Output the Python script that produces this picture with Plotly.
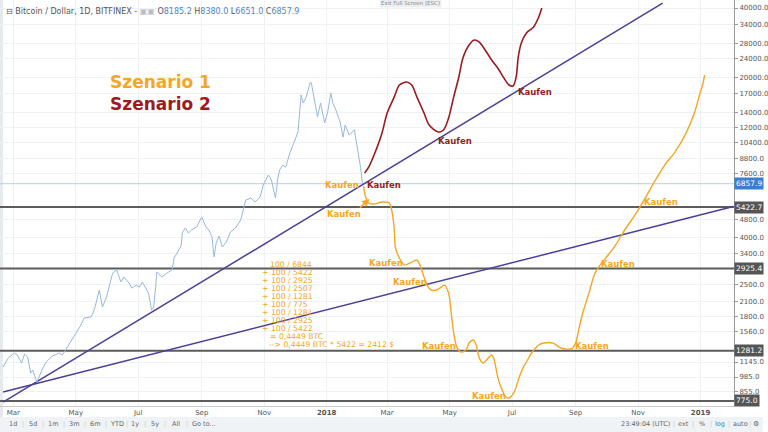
import math
import plotly.graph_objects as go

# ---------------- data ----------------
btc_dates = ['2017-02-19', '2017-02-24', '2017-03-02', '2017-03-05', '2017-03-09', '2017-03-12', '2017-03-15',
             '2017-03-18', '2017-03-20', '2017-03-24', '2017-03-29', '2017-04-02', '2017-04-08', '2017-04-15',
             '2017-04-18', '2017-04-22', '2017-04-27', '2017-05-03', '2017-05-06', '2017-05-09', '2017-05-16',
             '2017-05-19', '2017-05-22', '2017-05-24', '2017-05-27', '2017-05-31', '2017-06-06', '2017-06-10',
             '2017-06-14', '2017-06-17', '2017-06-22', '2017-06-25', '2017-06-29', '2017-07-02', '2017-07-05',
             '2017-07-08', '2017-07-11', '2017-07-14', '2017-07-16', '2017-07-18', '2017-07-19', '2017-07-24',
             '2017-07-29', '2017-08-03', '2017-08-05', '2017-08-08', '2017-08-12', '2017-08-13', '2017-08-16',
             '2017-08-19', '2017-08-22', '2017-08-27', '2017-08-31', '2017-09-01', '2017-09-05', '2017-09-08',
             '2017-09-11', '2017-09-13', '2017-09-15', '2017-09-18', '2017-09-21', '2017-09-25', '2017-09-29',
             '2017-10-04', '2017-10-09', '2017-10-12', '2017-10-14', '2017-10-19', '2017-10-23', '2017-10-28',
             '2017-10-31', '2017-11-05', '2017-11-08', '2017-11-12', '2017-11-14', '2017-11-16', '2017-11-19',
             '2017-11-22', '2017-11-26', '2017-12-01', '2017-12-04', '2017-12-07', '2017-12-09', '2017-12-12',
             '2017-12-16', '2017-12-17', '2017-12-20', '2017-12-23', '2017-12-26', '2017-12-30', '2018-01-02',
             '2018-01-05', '2018-01-07', '2018-01-10', '2018-01-14', '2018-01-17', '2018-01-19', '2018-01-23',
             '2018-01-28', '2018-01-31', '2018-02-03', '2018-02-05']
btc_close = [1088, 1191, 1253, 1228, 1133, 1240, 1203,
             1025, 1056, 936, 1056, 1145, 1215, 1253,
             1228, 1317, 1428, 1578, 1660, 1780, 1800,
             1929, 2198, 2358, 1987, 2198, 2797, 2883,
             2556, 2687, 2530, 2405, 2478, 2430, 2556,
             2405, 2286, 1929, 1987, 2430, 2825, 2687,
             2797, 2883, 3251, 3419, 3705, 4180, 4395,
             4180, 4308, 4440, 4763, 4907, 4440, 4308,
             4014, 3284, 3780, 4055, 3631, 3818, 4222,
             4395, 4763, 5425, 5821, 5938, 5706, 5998,
             6764, 7480, 7116, 5938, 7116, 7866, 8270,
             8100, 9330, 10630, 11525, 16710, 15420, 16380,
             19030, 18840, 15580, 13400, 15420, 12610, 14080,
             17050, 15420, 14370, 12740, 10950, 12370, 11190,
             11760, 9910, 8100, 6858]

s1_dates = ['2018-02-06', '2018-02-08', '2018-02-11', '2018-02-16', '2018-02-24', '2018-03-03', '2018-03-06',
            '2018-03-08', '2018-03-09', '2018-03-13', '2018-03-18', '2018-03-25', '2018-03-30', '2018-04-02',
            '2018-04-06', '2018-04-09', '2018-04-13', '2018-04-18', '2018-04-23', '2018-04-26', '2018-04-30',
            '2018-05-03', '2018-05-05', '2018-05-08', '2018-05-12', '2018-05-17', '2018-05-20', '2018-05-24',
            '2018-05-27', '2018-05-30', '2018-06-03', '2018-06-06', '2018-06-11', '2018-06-13', '2018-06-17',
            '2018-06-20', '2018-06-25', '2018-06-28', '2018-07-03', '2018-07-08', '2018-07-12', '2018-07-15',
            '2018-07-20', '2018-07-27', '2018-08-01', '2018-08-10', '2018-08-16', '2018-08-22', '2018-08-29',
            '2018-09-01', '2018-09-04', '2018-09-08', '2018-09-14', '2018-09-20', '2018-09-27', '2018-10-02',
            '2018-10-10', '2018-10-19', '2018-10-29', '2018-11-08', '2018-11-18', '2018-11-27', '2018-12-07',
            '2018-12-17', '2018-12-26', '2018-12-31', '2019-01-03', '2019-01-05']
s1_values = [6700, 5998, 5648, 5590, 5706, 5648, 5109,
             4308, 3631, 3251, 3030, 3123, 3187, 3030,
             2687, 2478, 2358, 2358, 2430, 2478, 2286,
             1800, 1530, 1330, 1265, 1291, 1385, 1428,
             1358, 1191, 1133, 1168, 1228, 1191, 984,
             891, 806, 798, 847, 984, 1088, 1145,
             1253, 1358, 1385, 1385, 1330, 1304, 1317,
             1385, 1578, 1873, 2286, 2797, 3123, 3320,
             3705, 4308, 5010, 5938, 7116, 8270, 9420,
             11190, 13940, 16710, 18470, 20400]

s2_dates = ['2018-02-07', '2018-02-11', '2018-02-17', '2018-02-24', '2018-03-01', '2018-03-08', '2018-03-13',
            '2018-03-20', '2018-03-25', '2018-03-30', '2018-04-06', '2018-04-11', '2018-04-20', '2018-04-25',
            '2018-04-30', '2018-05-05', '2018-05-10', '2018-05-14', '2018-05-20', '2018-05-25', '2018-05-30',
            '2018-06-06', '2018-06-11', '2018-06-17', '2018-06-23', '2018-06-28', '2018-07-02', '2018-07-05',
            '2018-07-07', '2018-07-10', '2018-07-15', '2018-07-22', '2018-07-27', '2018-07-30']
s2_values = [7632, 8100, 9330, 11410, 13940, 16400, 18470,
             19030, 18470, 16400, 13940, 12370, 11525, 11760,
             13260, 16400, 20010, 24220, 27580, 29010, 28430,
             25720, 23740, 21900, 19810, 18470, 18290, 20010,
             24460, 28150, 31120, 33070, 36540, 40000]

trend_a_dates = ['2017-02-19', '2018-11-25']
trend_a_values = [766, 42040]
trend_b_dates = ['2017-02-19', '2019-02-02']
trend_b_values = [847, 5450]

levels = [5422.7, 2925.4, 1281.2, 775.0]
last_price = 6857.9

y_ticks = [40000, 34000, 28000, 24000, 20000, 17000, 14000, 12000, 10400, 8800, 7600,
           4800, 4000, 3400, 2500, 2100, 1800, 1560, 1145, 985, 855]
x_ticks = ['2017-03-01', '2017-05-01', '2017-07-01', '2017-09-01', '2017-11-01', '2018-01-01',
           '2018-03-01', '2018-05-01', '2018-07-01', '2018-09-01', '2018-11-01', '2019-01-01']
x_tick_text = ['Mar', 'May', 'Jul', 'Sep', 'Nov', '<b>2018</b>', 'Mar', 'May', 'Jul', 'Sep', 'Nov', '<b>2019</b>']

calc_lines = ['100 / 6844', '+ 100 / 5422', '+ 100 / 2925', '+ 100 / 2507', '+ 100 / 1281', '+ 100 / 775',
              '+ 100 / 1281', '+ 100 / 2925', '+ 100 / 5422', '= 0,4449 BTC', '--> 0,4449 BTC * 5422 = 2412 $']

# ---------------- layout helpers ----------------
W, H = 768, 432
PR, PB = 739, 406          # plot area right / bottom in px
X_RANGE = ['2017-02-16', '2019-02-02 16:00']
Y_RANGE = [2.867, 4.637]

ORANGE = '#f5a623'
RED = '#9b1b1e'
PURPLE = '#4b3f98'
FONT = 'DejaVu Sans'


def px(x):
    return x / PR


def py(y):
    return 1 - y / PB


fig = go.Figure()

# horizontal levels
for lv in levels:
    fig.add_trace(go.Scatter(x=X_RANGE, y=[lv, lv], mode='lines',
                             line=dict(color='#5c5c5c', width=2), hoverinfo='skip'))
fig.add_trace(go.Scatter(x=X_RANGE, y=[last_price, last_price], mode='lines',
                         line=dict(color='#b7cfec', width=1), hoverinfo='skip'))

# trend lines
fig.add_trace(go.Scatter(x=trend_a_dates, y=trend_a_values, mode='lines',
                         line=dict(color=PURPLE, width=1.5), hoverinfo='skip'))
fig.add_trace(go.Scatter(x=trend_b_dates, y=trend_b_values, mode='lines',
                         line=dict(color=PURPLE, width=1.5), hoverinfo='skip'))

# price
fig.add_trace(go.Scatter(x=btc_dates, y=btc_close, mode='lines',
                         line=dict(color='#98b8dc', width=1)))
# scenarios
fig.add_trace(go.Scatter(x=s1_dates, y=s1_values, mode='lines',
                         line=dict(color=ORANGE, width=1.4, shape='spline', smoothing=0.8)))
fig.add_trace(go.Scatter(x=s2_dates, y=s2_values, mode='lines',
                         line=dict(color=RED, width=1.6, shape='spline', smoothing=0.8)))

ann = []


def text(x, y, t, color='#555', size=8, anchor='center', bold=False, **kw):
    d = dict(xref='paper', yref='paper', x=px(x), y=py(y), text=('<b>%s</b>' % t) if bold else t,
             showarrow=False, xanchor=anchor, yanchor='middle',
             font=dict(family=FONT, size=size, color=color))
    d.update(kw)
    ann.append(d)


# Szenario titles
text(109, 82, 'Szenario 1', ORANGE, 17, 'left', True)
text(109, 104, 'Szenario 2', RED, 17, 'left', True)

# Kaufen labels
for (x, y) in [(344, 185), (346, 214), (389, 263), (413, 282), (442, 346), (492, 396), (596, 346), (622, 264), (666, 202)]:
    text(x, y, 'Kaufen', ORANGE, 8.5, 'center', True)
for (x, y) in [(387, 185), (458, 141), (539, 92)]:
    text(x, y, 'Kaufen', RED, 8.5, 'center', True)

# arrow
ann.append(dict(xref='paper', yref='paper', x=px(372), y=py(199), ax=-11, ay=10, text='',
                showarrow=True, arrowhead=2, arrowsize=1, arrowwidth=1.5, arrowcolor=ORANGE))

# calculation block
starts = [270, 262, 262, 262, 262, 262, 262, 262, 262, 270, 269]
for i, line in enumerate(calc_lines):
    text(starts[i], 264.5 + 8.03 * i, line, ORANGE, 7.7, 'left')

# level boxes on price axis
for lv in levels:
    ann.append(dict(xref='paper', yref='y', x=1, y=math.log10(lv), text='%.1f' % lv, showarrow=False,
                    xanchor='left', yanchor='middle', bgcolor='#555555', borderpad=1,
                    font=dict(family=FONT, size=7.5, color='white')))
ann.append(dict(xref='paper', yref='y', x=1, y=math.log10(last_price), text='%.1f' % last_price,
                showarrow=False, xanchor='left', yanchor='middle', bgcolor='#3b7dd0', borderpad=1,
                font=dict(family=FONT, size=7.5, color='white')))

# header
blue = '#4f86c6'
hdr = ('⊟ Bitcoin / Dollar, 1D, BITFINEX - <span style="color:#bbb">▣▣</span> '
       'O<span style="color:%s">8185.2</span> H<span style="color:%s">8380.0</span> '
       'L<span style="color:%s">6651.0</span> C<span style="color:%s">6857.9</span>') % (blue, blue, blue, blue)
text(4, 12, hdr, '#555', 8, 'left')
text(413, 3, 'Exit Full Screen (ESC)', '#888', 5.5, 'center', bgcolor='#eceff2', borderpad=1)

# bottom toolbar
tb = [(13, '1d'), (33, '5d'), (53, '1m'), (75, '3m'), (96, '6m'), (118, 'YTD'), (136, '1y'),
      (156, '5y'), (177, 'All'), (205, 'Go to...')]
for x, t in tb:
    text(x, 424, t, '#666', 6.5, 'center')
for x in [23, 43, 64, 86, 107, 128, 146, 166, 188]:
    text(x, 424, '|', '#ccc', 6.5, 'center')
text(650, 424, '23:49:04 (UTC)', '#666', 6.5, 'center')
text(688, 424, 'ext', '#666', 6.5, 'center')
text(707, 424, '%', '#666', 6.5, 'center')
text(725, 424, 'log', '#3b7dd0', 6.5, 'center')
text(746, 424, 'auto', '#666', 6.5, 'center')
text(761, 424, '⚙', '#666', 7, 'center')
for x in [679, 698, 716, 734, 755]:
    text(x, 424, '|', '#ccc', 6.5, 'center')

shapes = [
    dict(type='rect', xref='paper', yref='paper', x0=px(0), x1=px(W), y0=py(417), y1=py(H + 2),
         fillcolor='#f0f3f6', line=dict(width=0), layer='below'),
    dict(type='rect', xref='paper', yref='paper', x0=px(0), x1=px(3), y0=py(417), y1=py(0),
         fillcolor='#e6eaef', line=dict(width=0), layer='below'),
]

fig.update_layout(
    width=W, height=H,
    margin=dict(l=0, r=W - PR, t=0, b=H - PB),
    paper_bgcolor='white', plot_bgcolor='white',
    showlegend=False,
    annotations=ann, shapes=shapes,
    xaxis=dict(type='date', range=X_RANGE, tickvals=x_ticks, ticktext=x_tick_text,
               showgrid=True, gridcolor='#eef1f5', gridwidth=1, zeroline=False,
               showline=True, linecolor='#c8c8c8', ticks='', tickfont=dict(family=FONT, size=7, color='#555')),
    yaxis=dict(type='log', range=Y_RANGE, side='right', tickvals=y_ticks,
               ticktext=['%.1f' % v for v in y_ticks], showgrid=True, gridcolor='#eef1f5',
               zeroline=False, showline=True, linecolor='#9a9a9a', ticks='outside', ticklen=3,
               tickcolor='#9a9a9a', tickfont=dict(family=FONT, size=7, color='#555')),
)

fig.write_html('out.html')
